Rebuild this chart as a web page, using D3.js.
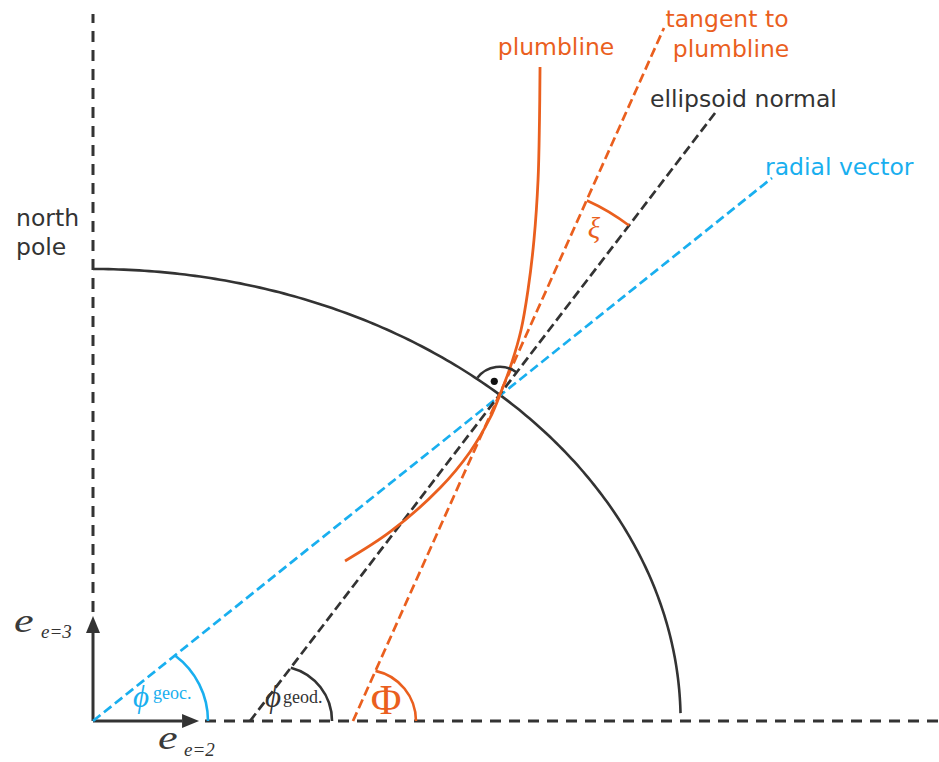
<!DOCTYPE html>
<html>
<head>
<meta charset="utf-8">
<script src="https://cdn.jsdelivr.net/npm/d3@7"></script>
<style>
  body { margin: 0; background: #fff; }
  svg { display: block; }
</style>
</head>
<body>
<script>
// ---- Geometry of the meridian plane (units) ----
const ellipseAxes   = [6.5, 5.0];        // semi-major (e2), semi-minor (e3)
const meridianSpan  = [1.0, 90.0];       // parametric angle range of drawn meridian, deg
const surfaceAngle  = [46.2];            // parametric angle of the surface point, deg

// Straight lines through the surface point: [start, end]
const radialVector    = [[0, 0], [7.511, 6.007]];
const ellipsoidNormal = [[1.737, 0], [6.881, 6.726]];
const plumbTangent    = [[2.876, 0], [6.316, 7.666]];

// Curved plumbline trace
const plumbline = [
  [2.788, 1.770], [3.285, 2.091], [3.838, 2.577], [4.170, 2.976],
  [4.392, 3.352], [4.513, 3.639], [4.635, 3.971], [4.735, 4.325],
  [4.812, 4.768], [4.878, 5.321], [4.923, 5.985], [4.939, 6.648],
  [4.945, 7.235]
];

// Coordinate axes (units)
const e3Axis = [1.162, 1.206, 7.821];   // arrow tip, dashed start, dashed end
const e2Axis = [1.173, 1.239, 9.360];

// Labels
const lineLabels = ["plumbline", "tangent to", "plumbline", "ellipsoid normal", "radial vector", "north", "pole"];
const angleLabels = ["geoc.", "geod.", "Φ", "ξ"];

const W = 939, H = 762;
const DARK = "#333333", ORANGE = "#EA5F1E", BLUE = "#19AFEF";

const x = d3.scaleLinear().domain([0, ellipseAxes[0]]).range([93, 93 + 90.4 * ellipseAxes[0]]);
const y = d3.scaleLinear().domain([0, ellipseAxes[1]]).range([721, 721 - 90.4 * ellipseAxes[1]]);
const k = x(1) - x(0);

const svg = d3.select("body").append("svg").attr("width", W).attr("height", H);

const line = d3.line().x(d => x(d[0])).y(d => y(d[1]));
const rad = d => d * Math.PI / 180;

// surface point on the ellipse
const tP = rad(surfaceAngle[0]);
const P = [ellipseAxes[0] * Math.cos(tP), ellipseAxes[1] * Math.sin(tP)];
const dirAngle = seg => Math.atan2(seg[1][1] - seg[0][1], seg[1][0] - seg[0][0]);

// ---- coordinate axes ----
svg.append("path").attr("d", line([[0, e3Axis[1]], [0, e3Axis[2]]]))
  .attr("stroke", DARK).attr("stroke-width", 3).attr("stroke-dasharray", "11,8").attr("fill", "none");
svg.append("path").attr("d", line([[e2Axis[1], 0], [e2Axis[2], 0]]))
  .attr("stroke", DARK).attr("stroke-width", 3).attr("stroke-dasharray", "11,8").attr("fill", "none");

function arrow(tip, dir) {
  const hl = 17 / k, hw = 7 / k;
  const base = [tip[0] - dir[0] * hl, tip[1] - dir[1] * hl];
  svg.append("path").attr("d", line([[0, 0], base]))
    .attr("stroke", DARK).attr("stroke-width", 3).attr("fill", "none");
  const n = [-dir[1], dir[0]];
  svg.append("path")
    .attr("d", line([tip, [base[0] + n[0] * hw, base[1] + n[1] * hw], [base[0] - n[0] * hw, base[1] - n[1] * hw]]) + "Z")
    .attr("fill", DARK);
}
arrow([0, e3Axis[0]], [0, 1]);
arrow([e2Axis[0], 0], [1, 0]);

// ---- meridian ellipse ----
const ellPts = d3.range(meridianSpan[0], meridianSpan[1] + 0.01, 0.5)
  .map(t => [ellipseAxes[0] * Math.cos(rad(t)), ellipseAxes[1] * Math.sin(rad(t))]);
svg.append("path").attr("d", line(ellPts))
  .attr("stroke", DARK).attr("stroke-width", 2.6).attr("fill", "none");

// ---- straight lines ----
[[radialVector, BLUE], [ellipsoidNormal, DARK], [plumbTangent, ORANGE]].forEach(([seg, c]) => {
  svg.append("path").attr("d", line(seg))
    .attr("stroke", c).attr("stroke-width", 2.7).attr("stroke-dasharray", "9.5,4.5").attr("fill", "none");
});

// ---- plumbline ----
svg.append("path")
  .attr("d", d3.line().x(d => x(d[0])).y(d => y(d[1])).curve(d3.curveCatmullRom.alpha(0.5))(plumbline))
  .attr("stroke", ORANGE).attr("stroke-width", 2.8).attr("fill", "none");

// ---- angle marks at the e2 axis ----
function angleMark(seg, cx, r, color) {
  const th = dirAngle(seg), ax = seg[0][0], d = ax - cx;
  const s = -d * Math.cos(th) + Math.sqrt(d * d * Math.cos(th) ** 2 - d * d + r * r);
  const p = [ax + s * Math.cos(th), s * Math.sin(th)];
  const phi = Math.atan2(p[1], p[0] - cx);
  const path = d3.path();
  path.arc(x(cx), y(0), r * k, -phi, 0, false);
  svg.append("path").attr("d", path.toString())
    .attr("stroke", color).attr("stroke-width", 2.6).attr("fill", "none");
}
angleMark(radialVector, 0.369, 0.903, BLUE);
angleMark(ellipsoidNormal, 2.034, 0.610, DARK);
angleMark(plumbTangent, 3.006, 0.567, ORANGE);

// ---- deflection angle xi ----
{
  const a1 = dirAngle(plumbTangent), a2 = dirAngle(ellipsoidNormal);
  const path = d3.path();
  path.arc(x(P[0]), y(P[1]), 2.356 * k, -a1, -a2, false);
  svg.append("path").attr("d", path.toString())
    .attr("stroke", ORANGE).attr("stroke-width", 2.6).attr("fill", "none");
}

// ---- right angle between ellipsoid tangent and normal ----
{
  const an = dirAngle(ellipsoidNormal);
  const path = d3.path();
  path.arc(x(P[0]), y(P[1]), 0.31 * k, -(an + Math.PI / 2), -an, false);
  svg.append("path").attr("d", path.toString())
    .attr("stroke", DARK).attr("stroke-width", 2.6).attr("fill", "none");
  const da = rad(112), dr = 0.16;
  svg.append("circle")
    .attr("cx", x(P[0] + dr * Math.cos(da))).attr("cy", y(P[1] + dr * Math.sin(da)))
    .attr("r", 3.6).attr("fill", "#111");
}

// ---- text ----
const sans = "'DejaVu Sans', Verdana, sans-serif";
const serif = "'Liberation Serif', 'DejaVu Serif', serif";
function txt(str, px, py, opt) {
  const t = svg.append("text").attr("x", px).attr("y", py).text(str)
    .attr("font-family", opt.family || sans)
    .attr("font-size", opt.size || 23.5)
    .attr("fill", opt.color || DARK)
    .attr("text-anchor", opt.anchor || "start");
  if (opt.italic) t.attr("font-style", "italic");
  if (opt.sx) t.attr("transform", `translate(${px},${py}) scale(${opt.sx},1) translate(${-px},${-py})`);
  return t;
}

txt(lineLabels[0], 556, 55, { color: ORANGE, anchor: "middle" });
txt(lineLabels[1], 727, 27, { color: ORANGE, anchor: "middle" });
txt(lineLabels[2], 731, 57, { color: ORANGE, anchor: "middle" });
txt(lineLabels[3], 650, 107, { color: DARK });
txt(lineLabels[4], 765, 175, { color: BLUE });
txt(lineLabels[5], 16, 226, { color: DARK });
txt(lineLabels[6], 16, 255, { color: DARK });

// basis vector labels
txt("e", 14, 632, { family: serif, size: 34, italic: true, sx: 1.3, color: "#3a3a3a" });
txt("e=3", 41, 638, { family: serif, size: 19, italic: true });
txt("e", 158, 749, { family: serif, size: 34, italic: true, sx: 1.3, color: "#3a3a3a" });
txt("e=2", 184, 756, { family: serif, size: 19, italic: true });

// latitude labels
txt("ϕ", 133, 707, { family: serif, size: 31, italic: true, color: BLUE });
txt(angleLabels[0], 153, 699, { family: serif, size: 18, color: BLUE });
txt("ϕ", 265, 707, { family: serif, size: 31, italic: true, color: DARK });
txt(angleLabels[1], 283, 703, { family: serif, size: 18, color: DARK });
txt(angleLabels[2], 386, 714, { family: serif, size: 42, color: ORANGE, anchor: "middle" });
txt(angleLabels[3], 594, 238, { family: serif, size: 29, italic: true, color: ORANGE, anchor: "middle" });
</script>
</body>
</html>
